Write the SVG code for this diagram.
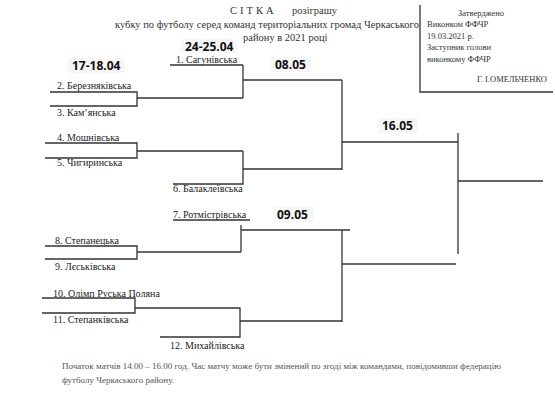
<svg xmlns="http://www.w3.org/2000/svg" width="555" height="415" viewBox="0 0 555 415">
<style>
.t{font-family:"Liberation Serif",serif;font-size:10px;fill:#222}
.h{font-family:"Liberation Serif",serif;font-size:10.5px;fill:#333}
.b{font-family:"Liberation Serif",serif;font-size:8.5px;fill:#333}
.d{font-family:"Open Sans","Liberation Sans",sans-serif;font-size:12px;font-weight:bold;fill:#111}
.f{font-family:"Liberation Serif",serif;font-size:9px;fill:#555}
.l{stroke:#333;stroke-width:1.3;fill:none}
.bg{fill:#f6f6f6}
</style>
<rect width="555" height="415" fill="#fff"/>
<g id="title">
<text class="h" x="230" y="14" letter-spacing="3">СІТКА</text>
<text class="h" x="292" y="14">розіграшу</text>
<text class="h" x="115" y="28">кубку по футболу серед команд територіальних громад Черкаського</text>
<text class="h" x="243" y="41">району в 2021 році</text>
</g>
<g id="approval">
<path class="l" d="M420,5 V92 H553" stroke-width="1"/>
<text class="b" x="458" y="16">Затверджено</text>
<text class="b" x="427" y="27">Виконком ФФЧР</text>
<text class="b" x="427" y="39">19.03.2021 р.</text>
<text class="b" x="427" y="50">Заступник голови</text>
<text class="b" x="427" y="62">виконкому ФФЧР</text>
<text class="b" x="547" y="82" text-anchor="end">Г. І.ОМЕЛЬЧЕНКО</text>
</g>
<g id="dates">
<rect class="bg" x="68" y="58" width="56" height="15"/><text class="d" x="72" y="70">17-18.04</text>
<rect class="bg" x="181" y="39" width="56" height="14"/><text class="d" x="185" y="51">24-25.04</text>
<rect class="bg" x="271" y="57" width="40" height="15"/><text class="d" x="275" y="69">08.05</text>
<rect class="bg" x="378" y="118" width="40" height="15"/><text class="d" x="382" y="130">16.05</text>
<rect class="bg" x="274" y="207" width="40" height="15"/><text class="d" x="277" y="219">09.05</text>
</g>
<g id="team1"><text class="t" x="176" y="63">1. Сагунівська</text></g>
<g id="team2"><text class="t" x="57" y="89">2. Березняківська</text></g>
<g id="team3"><text class="t" x="57" y="116">3. Кам’янська</text></g>
<g id="team4"><text class="t" x="57" y="141">4. Мошнівська</text></g>
<g id="team5"><text class="t" x="57" y="166">5. Чигиринська</text></g>
<g id="team6"><text class="t" x="173" y="192">6. Балаклеївська</text></g>
<g id="team7"><text class="t" x="173" y="218">7. Ротмістрівська</text></g>
<g id="team8"><text class="t" x="55" y="244">8. Степанецька</text></g>
<g id="team9"><text class="t" x="55" y="270">9. Лєськівська</text></g>
<g id="team10"><text class="t" x="53" y="297">10.  Олімп Руська Поляна</text></g>
<g id="team11"><text class="t" x="53" y="323">11.  Степанківська</text></g>
<g id="team12"><text class="t" x="170" y="349">12. Михайлівська</text></g>
<g id="connectors">
<path class="l" d="M170,65 H243"/>
<path class="l" d="M50,92 H137 V106 H50"/>
<path class="l" d="M137,98 H243"/>
<path class="l" d="M243,65 V98"/>
<path class="l" d="M243,80 H342"/>
<path class="l" d="M45,143 H137 V158 H45"/>
<path class="l" d="M137,151 H243"/>
<path class="l" d="M173,184 H243 V151"/>
<path class="l" d="M243,169 H342"/>
<path class="l" d="M342,80 V170"/>
<path class="l" d="M342,142 H458"/>
<path class="l" d="M458,133 V254"/>
<path class="l" d="M458,181 H543"/>
<path class="l" d="M173,220 H250"/>
<path class="l" d="M241,225 V252"/>
<path class="l" d="M45,246 H137 V259 H45"/>
<path class="l" d="M137,252 H241"/>
<path class="l" d="M241,230 H350"/>
<path class="l" d="M342,230 V322"/>
<path class="l" d="M342,264 H456"/>
<path class="l" d="M42,298 H135 V313 H42"/>
<path class="l" d="M135,308 H240 V337 H160"/>
<path class="l" d="M240,321 H342"/>
</g>
<g id="footer">
<text class="f" x="62" y="369">Початок матчів  14.00 – 16.00 год. Час матчу може бути змінений по згоді між командами, повідомивши федерацію</text>
<text class="f" x="62" y="383">футболу Черкаського району.</text>
</g>
</svg>
